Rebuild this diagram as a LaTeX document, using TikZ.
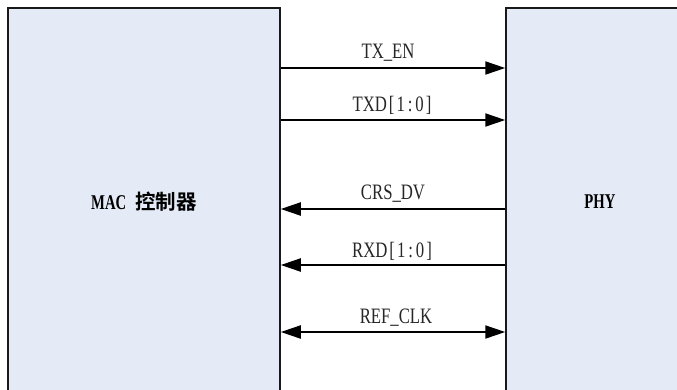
\documentclass[tikz,border=0pt]{standalone}
\usepackage{fontspec}
\usetikzlibrary{arrows.meta}
\newfontfamily\labfont[FakeStretch=0.76]{Liberation Serif}
\newfontfamily\boldlat[FakeStretch=0.7]{Liberation Serif Bold}
\newfontfamily\cjkb{Noto Sans CJK SC Bold}
\newcommand{\cellch}[1]{\makebox[9.3pt]{#1}}
\newcommand{\bitsrange}{\cellch{[}\cellch{1}\cellch{:}\cellch{0}\cellch{]}}
\definecolor{boxfill}{RGB}{228,235,246}
\definecolor{boxline}{RGB}{25,25,25}
\tikzset{
  blockbox/.style={draw=boxline, line width=1.5pt, fill=boxfill, inner sep=0pt,
    minimum height=388pt, font=\fontsize{21}{23}\selectfont},
  sig/.style={draw=black, line width=2pt, -{Triangle[length=20pt,width=13pt]}},
  sigboth/.style={draw=black, line width=2pt, {Triangle[length=20pt,width=13pt]}-{Triangle[length=20pt,width=13pt]}},
  siglab/.style={inner sep=0pt, font=\labfont\fontsize{22}{24}\selectfont, text=black!85}
}
\begin{document}
\begin{tikzpicture}[x=1pt,y=-1pt]
\useasboundingbox (0,0) rectangle (677,389);
\clip (0,0) rectangle (677,389);
\node[blockbox, minimum width=272pt] (mac) at (144,202) {\boldlat MAC\hspace{9pt}\cjkb\fontsize{20.5}{23}\selectfont 控制器};
\node[blockbox, minimum width=188pt] (phy) at (600,202) {\boldlat PHY};
\coordinate (r1) at (0,68);
\coordinate (r2) at (0,120);
\coordinate (r3) at (0,209);
\coordinate (r4) at (0,265);
\coordinate (r5) at (0,332);
\draw[sig] (mac.east |- r1) -- (phy.west |- r1);
\draw[sig] (mac.east |- r2) -- (phy.west |- r2);
\draw[sig] (phy.west |- r3) -- (mac.east |- r3);
\draw[sig] (phy.west |- r4) -- (mac.east |- r4);
\draw[sigboth] (mac.east |- r5) -- (phy.west |- r5);
\node[siglab] (l1) at (388,53) {TX\_EN};
\node[siglab] (l2) at (393,105) {TXD\bitsrange};
\node[siglab] (l3) at (393,194) {CRS\_DV};
\node[siglab] (l4) at (393,251) {RXD\bitsrange};
\node[siglab] (l5) at (396,318) {REF\_CLK};
\end{tikzpicture}
\end{document}
